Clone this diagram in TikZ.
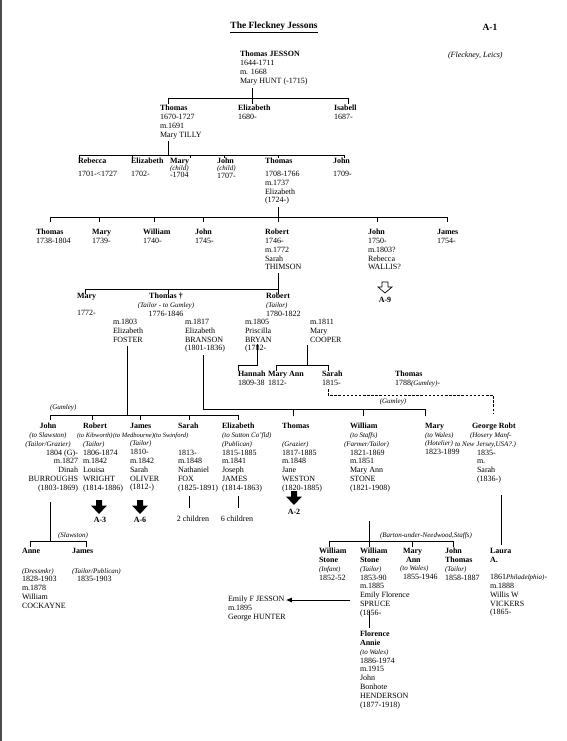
\documentclass[tikz,border=0pt]{standalone}
\usepackage{fontspec}
\setmainfont{Liberation Serif}
\usetikzlibrary{arrows.meta}
\newcommand\fs{\fontsize{8}{8.8}\selectfont}
\newcommand\ita[1]{{\fontsize{7}{8.8}\selectfont\itshape #1}}
\newcommand\itb[1]{{\fontsize{6.5}{8.8}\selectfont\itshape #1}}
\tikzset{
  blk/.style={anchor=north west, inner sep=0pt, outer sep=0pt, align=left, font=\fs, execute at begin node=\strut, yshift=3.9pt},
  blkc/.style={blk, anchor=north, align=center},
  lab/.style={inner sep=0pt, font=\fs\bfseries},
  ln/.style={line width=0.8pt},
  dsh/.style={line width=0.8pt, dash pattern=on 2.5pt off 1.6pt},
  pics/solidarrow/.style={code={\fill (-3,0) -- (3,0) -- (3,5.5) -- (8,5.5) -- (0,14) -- (-8,5.5) -- (-3,5.5) -- cycle;}},
  pics/hollowarrow/.style={code={\draw[line width=0.7pt, line join=miter] (-3,0) -- (3,0) -- (3,5) -- (7,5) -- (0,11) -- (-7,5) -- (-3,5) -- cycle;}},
}
\begin{document}
\begin{tikzpicture}[x=1pt,y=-1pt]
\useasboundingbox (0,0) rectangle (567,741);
\fill[white] (0,0) rectangle (567,741);
\draw[line width=2pt, black!70] (1,0) -- (1,741);

% header
\node[inner sep=0pt, font=\fontsize{9.5}{11}\selectfont\bfseries] (title) at (274,27) {\underline{The Fleckney Jessons}};
\node[inner sep=0pt, font=\fontsize{9.5}{11}\selectfont\bfseries] (aone) at (490,27) {A-1};
\node[blk, font=\fontsize{8}{8.8}\selectfont\itshape] (leics) at (448,55) {(Fleckney, Leics)};

% generation 1
\node[blk] (tj) at (240,55) {\textbf{Thomas JESSON}\\1644-1711\\m. 1668\\Mary HUNT (-1715)};
\draw[ln] (252,88) -- (252,104);
\draw[ln] (168,104) -- (168,98) -- (348,98) -- (348,104);

% generation 2
\node[blk] (th2) at (160,109) {\textbf{Thomas}\\1670-1727\\m.1691\\Mary TILLY};
\node[blk] (el2) at (238,109) {\textbf{Elizabeth}\\1680-};
\node[blk] (is2) at (334,109) {\textbf{Isabell}\\1687-};
\draw[ln] (168,141) -- (168,155);
\draw[ln] (79,158) -- (79,155) -- (344,155) -- (344,158);
\foreach \x in {132,190,224,278} \draw[ln] (\x,155) -- (\x,158);

% generation 3
\node[blk] (reb) at (78,162) {\textbf{Rebecca}\\[4pt]1701-<1727};
\node[blk] (el3) at (131,162) {\textbf{Elizabeth}\\[4pt]1702-};
\node[blk] (ma3) at (170,162) {\textbf{Mary}\\[-1.5pt]\ita{(child)}\\[-1.5pt]-1704};
\node[blk] (jo3) at (217,162) {\textbf{John}\\[-1.5pt]\ita{(child)}\\[-1.5pt]1707-};
\node[blk] (th3) at (265,162) {\textbf{Thomas}\\[4pt]1708-1766\\m.1737\\Elizabeth\\(1724-)};
\node[blk] (jn3) at (333,162) {\textbf{John}\\[4pt]1709-};
\draw[ln] (278,207) -- (278,222);
\draw[ln] (50,222) -- (50,217) -- (447,217) -- (447,222);
\foreach \x in {99,154,203,377} \draw[ln] (\x,217) -- (\x,222);

% generation 4
\node[blk] (th4) at (36,233) {\textbf{Thomas}\\1738-1804};
\node[blk] (ma4) at (92,233) {\textbf{Mary}\\1739-};
\node[blk] (wi4) at (143,233) {\textbf{William}\\1740-};
\node[blk] (jo4) at (195,233) {\textbf{John}\\1745-};
\node[blk] (ro4) at (265,233) {\textbf{Robert}\\1746-\\m.1772\\Sarah\\THIMSON};
\node[blk] (jn4) at (368,233) {\textbf{John}\\1750-\\m.1803?\\Rebecca\\WALLIS?};
\node[blk] (ja4) at (437,233) {\textbf{James}\\1754-};
\pic at (385,282) {hollowarrow};
\node[lab] (anine) at (385,300) {A-9};
\draw[ln] (278,273) -- (278,294);
\draw[ln] (85,294) -- (85,289) -- (278,289);
\draw[ln] (168,289) -- (168,294);

% generation 5
\node[blk] (ma5) at (77,297) {\textbf{Mary}\\\mbox{}\\1772-};
\node[blkc] (th5) at (166,297) {\textbf{Thomas †}\\\ita{(Tailor - to Gumley)}\\1776-1846};
\node[blk] (ro5) at (266,297) {\textbf{Robert}\\\ita{(Tailor)}\\1780-1822};
\node[blk] (foster) at (113,323) {m.1803\\Elizabeth\\FOSTER};
\node[blk] (branson) at (185,323) {m.1817\\Elizabeth\\BRANSON\\(1801-1836)};
\node[blk] (bryan) at (245,323) {m.1805\\Priscilla\\BRYAN\\(1782-};
\node[blk] (cooper) at (310,323) {m.1811\\Mary\\COOPER};
\draw[ln] (257,344) -- (257,365) -- (238,365) -- (238,371);
\draw[ln] (307,345) -- (307,365);
\draw[ln] (276,371) -- (276,365) -- (328,365) -- (328,371);

% generation 6
\node[blk] (han) at (238,375) {\textbf{Hannah}\\1809-38};
\node[blk] (mann) at (268,375) {\textbf{Mary Ann}\\1812-};
\node[blk] (sar6) at (322,375) {\textbf{Sarah}\\1815-};
\node[blk] (th6) at (395,375) {\textbf{Thomas}\\1788\ita{(Gumley)}-};
\draw[dsh] (328,389) -- (328,395) -- (493,395) -- (493,414);
\node[inner sep=0pt] (gum2) at (393,402) {\ita{(Gumley)}};

% Foster children
\draw[ln] (127,346) -- (127,415);
\draw[ln] (50,420) -- (50,415) -- (238,415) -- (238,420);
\foreach \x in {92,140,189} \draw[ln] (\x,415) -- (\x,420);
\node[blk] (gum1) at (50,407) {\ita{(Gumley)}};
% Branson children
\draw[ln] (203,355) -- (203,409) -- (425,409) -- (425,416);
\foreach \x in {293,363} \draw[ln] (\x,409) -- (\x,416);

% generation 7
\node[blkc] (jn7) at (48,427) {\textbf{John}\\\ita{(to Slawston)}\\\ita{(Tailor/Grazier)}};
\node[blk, anchor=north east, align=right] (jn7b) at (78,453.4) {1804 (G)-\\m.1827\\Dinah\\BURROUGHS\\(1803-1869)};
\node[blk] (ro7) at (83,427) {\textbf{Robert}\\\hspace*{-6pt}\itb{(to Kibworth)}\\\ita{(Tailor)}\\1806-1874\\m.1842\\Louisa\\WRIGHT\\(1814-1886)};
\node[blk] (ja7) at (130,427) {\textbf{James}\\\hspace*{-17pt}\itb{(to Medbourne)}\\\ita{(Tailor)}\\1810-\\m.1842\\Sarah\\OLIVER\\(1812-)};
\node[blk] (sa7) at (178,427) {\textbf{Sarah}\\\hspace*{-24pt}\itb{(to Swinford)}\\\mbox{}\\1813-\\m.1848\\Nathaniel\\FOX\\(1825-1891)};
\node[blk] (el7) at (222,427) {\textbf{Elizabeth}\\\ita{(to Sutton Co'fld)}\\\ita{(Publican)}\\1815-1885\\m.1841\\Joseph\\JAMES\\(1814-1863)};
\node[blk] (th7) at (282,427) {\textbf{Thomas}\\\mbox{}\\\ita{(Grazier)}\\1817-1885\\m.1848\\Jane\\WESTON\\(1820-1885)};
\node[blk] (wi7) at (350,427) {\textbf{William}\\\ita{(to Staffs)}\\\hspace*{-6pt}\ita{(Farmer/Tailor)}\\1821-1869\\m.1851\\Mary Ann\\STONE\\(1821-1908)};
\node[blk] (ma7) at (425,427) {\textbf{Mary}\\\ita{(to Wales)}\\\ita{(Hotelier)}\\1823-1899};
\node[blk] (ge7) at (477,427) {\hspace*{-5pt}\textbf{George Robt}\\\hspace*{-7pt}\ita{(Hosery Manf-}\\\hspace*{-22pt}\ita{to New Jersey,USA?.)}\\1835-\\m.\\Sarah\\(1836-)};

% onward references
\pic at (99,500) {solidarrow};
\node[lab] (athree) at (100,520) {A-3};
\pic at (140,500) {solidarrow};
\node[lab] (asix) at (140,520) {A-6};
\pic at (294,491) {solidarrow};
\node[lab] (atwo) at (294,512) {A-2};
\draw[ln] (189,496) -- (189,508);
\node[inner sep=0pt, font=\fs] (twoch) at (193,519) {2 children};
\draw[ln] (238,496) -- (238,508);
\node[inner sep=0pt, font=\fs] (sixch) at (237,519) {6 children};

% John's children
\draw[ln] (50,502) -- (50,541);
\draw[ln] (30,547) -- (30,541) -- (86,541) -- (86,547);
\node[blk] (slaw) at (58,535) {\ita{(Slawston)}};
\node[blk] (anne) at (22,552) {\textbf{Anne}\\[11pt]\ita{(Dressmkr)}\\1828-1903\\m.1878\\William\\COCKAYNE};
\node[blk] (ja8) at (72,552) {\textbf{James}\\[11pt]\ita{(Tailor/Publican)}\\\hspace*{5pt}1835-1903};

% William's children
\draw[ln] (369,521) -- (369,547);
\draw[ln] (329,547) -- (329,541) -- (453,541) -- (453,547);
\draw[ln] (412,541) -- (412,547);
\node[blk] (barton) at (380,535) {\ita{(Barton-under-Needwood,Staffs)}};
\draw[ln] (501,495) -- (501,545);

\node[blk] (ws1) at (319,552) {\textbf{William}\\\textbf{Stone}\\\ita{(Infant)}\\1852-52};
\node[blk] (ws2) at (360,552) {\textbf{William}\\\textbf{Stone}\\\ita{(Tailor)}\\1853-90\\m.1885\\Emily Florence\\SPRUCE\\(1856-};
\node[blk] (mas) at (403,552) {\textbf{Mary}\\\hspace*{3pt}\textbf{Ann}\\\hspace*{-3pt}\ita{(to Wales)}\\1855-1946};
\node[blk] (jt) at (445,552) {\textbf{John}\\\textbf{Thomas}\\\ita{(Tailor)}\\1858-1887};
\node[blk] (laura) at (490,552) {\textbf{Laura}\\\textbf{A.}\\\mbox{}\\1861\ita{Philadelphia)}-\\m.1888\\Willis W\\VICKERS\\(1865-};

\node[blk] (emily) at (228,600) {Emily F JESSON\\m.1895\\George HUNTER};
\draw[ln, -{Latex[length=6pt,width=5pt]}] (350,600) -- (emily.east |- 0,600);

\draw[ln] (369,611) -- (369,628);
\node[blk] (flo) at (360,635) {\textbf{Florence}\\\textbf{Annie}\\\ita{(to Wales)}\\1886-1974\\m.1915\\John\\Bonhote\\HENDERSON\\(1877-1918)};
\end{tikzpicture}
\end{document}
